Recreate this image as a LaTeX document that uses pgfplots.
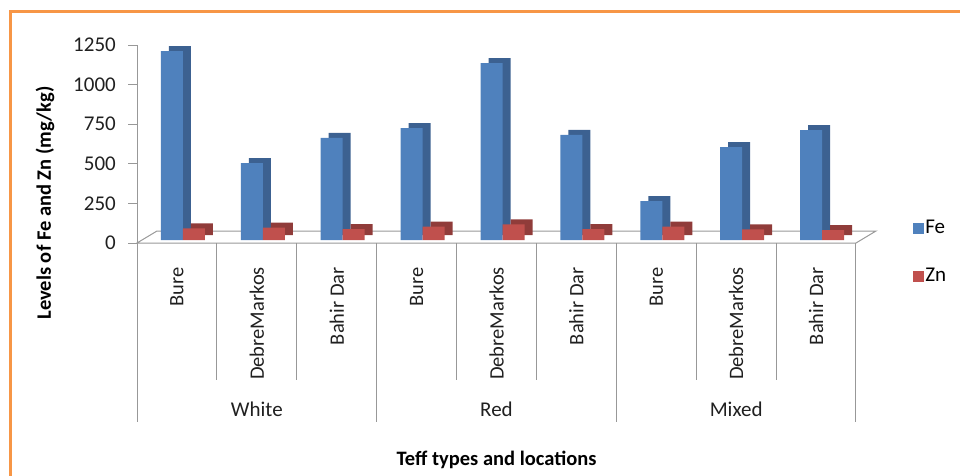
\documentclass[border=0pt]{standalone}
\usepackage{pgfplots}
\usepackage{pgfplotstable}
\pgfplotsset{compat=1.18}
\usepackage{fontspec}
\setmainfont{Carlito}
\definecolor{feF}{HTML}{4F81BD}
\definecolor{feS}{HTML}{3C6191}
\definecolor{znF}{HTML}{C0504D}
\definecolor{znS}{HTML}{903C3A}
\definecolor{orangeB}{HTML}{F79646}
\definecolor{axgray}{HTML}{989898}
\definecolor{txt}{HTML}{202020}

\pgfplotstableread{
x fe zn
0 1193 74
1 486 78
2 644 69
3 707 84
4 1117 99
5 663 69
6 246 84
7 587 67
8 694 63
}\datatable

\begin{document}
\begin{tikzpicture}[x=1pt,y=1pt]
\useasboundingbox (0,0) rectangle (960,475);
\draw[orangeB, line width=3pt] (10,-20) -- (10,463) -- (990,463);
\node[rotate=90, font=\fontsize{20.5}{22}\selectfont\bfseries, text=black] at (45,272) {Levels of Fe and Zn (mg/kg)};
\begin{axis}[
  at={(137pt,232pt)}, anchor=south west,
  scale only axis, width=719pt, height=198pt,
  xmin=-0.5, xmax=8.5, ymin=0, ymax=1250,
  clip=false,
  axis x line*=bottom, axis y line*=left,
  x axis line style={draw=none},
  y axis line style={draw=axgray, line width=1pt},
  xtick={0,...,8},
  xticklabels={Bure,DebreMarkos,Bahir Dar,Bure,DebreMarkos,Bahir Dar,Bure,DebreMarkos,Bahir Dar},
  major x tick style={draw=none},
  xticklabel style={rotate=90, anchor=east, inner sep=0pt, font=\fontsize{20.5}{22}\selectfont, text=txt},
  xticklabel shift=15pt,
  ytick={0,250,...,1250},
  tick align=outside,
  major y tick style={draw=axgray, line width=1pt},
  major tick length=9pt,
  yticklabel style={anchor=east, inner sep=0pt, font=\fontsize{21}{23}\selectfont, text=txt},
  yticklabel shift=12pt,
  /pgf/number format/assume math mode=true,
  /pgf/number format/1000 sep={},
  legend style={draw=none, fill=none, at={(1.079,0.125)}, anchor=north west,
    font=\fontsize{21}{23}\selectfont, row sep=29pt, inner sep=0pt,
    nodes={inner sep=2pt}},
  legend cell align=left,
]
% floor
\draw[axgray, line width=1pt] (axis cs:-0.5,0) -- ++(20pt,12pt) -- ++(719pt,0pt) -- (axis cs:8.5,0) -- cycle;
% category separators
\draw[axgray, line width=1pt] (axis cs:-0.5,0) -- ++(0pt,-179pt);
\draw[axgray, line width=1pt] (axis cs:0.5,0) -- ++(0pt,-137pt);
\draw[axgray, line width=1pt] (axis cs:1.5,0) -- ++(0pt,-137pt);
\draw[axgray, line width=1pt] (axis cs:2.5,0) -- ++(0pt,-179pt);
\draw[axgray, line width=1pt] (axis cs:3.5,0) -- ++(0pt,-137pt);
\draw[axgray, line width=1pt] (axis cs:4.5,0) -- ++(0pt,-137pt);
\draw[axgray, line width=1pt] (axis cs:5.5,0) -- ++(0pt,-179pt);
\draw[axgray, line width=1pt] (axis cs:6.5,0) -- ++(0pt,-137pt);
\draw[axgray, line width=1pt] (axis cs:7.5,0) -- ++(0pt,-137pt);
\draw[axgray, line width=1pt] (axis cs:8.5,0) -- ++(0pt,-179pt);
\node[font=\fontsize{21}{23}\selectfont, text=txt] at (axis cs:1,0) [yshift=-166pt] {White};
\node[font=\fontsize{21}{23}\selectfont, text=txt] at (axis cs:4,0) [yshift=-166pt] {Red};
\node[font=\fontsize{21}{23}\selectfont, text=txt] at (axis cs:7,0) [yshift=-166pt] {Mixed};
\node[font=\fontsize{20.5}{22}\selectfont\bfseries, text=black] at (rel axis cs:0.5,0) [yshift=-217pt] {Teff types and locations};
% Fe bars
\addplot[ybar, bar width=22pt, bar shift=-11pt, fill=feS, draw=none, xshift=14pt, yshift=8pt, forget plot] table[x=x,y=fe]{\datatable};
\addplot[ybar, bar width=22pt, bar shift=-11pt, fill=feF, draw=none, xshift=6pt, yshift=3pt, forget plot] table[x=x,y=fe]{\datatable};
% Zn bars
\addplot[ybar, bar width=22pt, bar shift=11pt, fill=znS, draw=none, xshift=14pt, yshift=8pt, forget plot] table[x=x,y=zn]{\datatable};
\addplot[ybar, bar width=22pt, bar shift=11pt, fill=znF, draw=none, xshift=6pt, yshift=3pt, forget plot] table[x=x,y=zn]{\datatable};
\addlegendimage{legend image code/.code={\fill[feF] (0pt,-5pt) rectangle (10pt,5pt);}}
\addlegendentry{Fe}
\addlegendimage{legend image code/.code={\fill[znF] (0pt,-5pt) rectangle (10pt,5pt);}}
\addlegendentry{Zn}
\end{axis}
\end{tikzpicture}
\end{document}
